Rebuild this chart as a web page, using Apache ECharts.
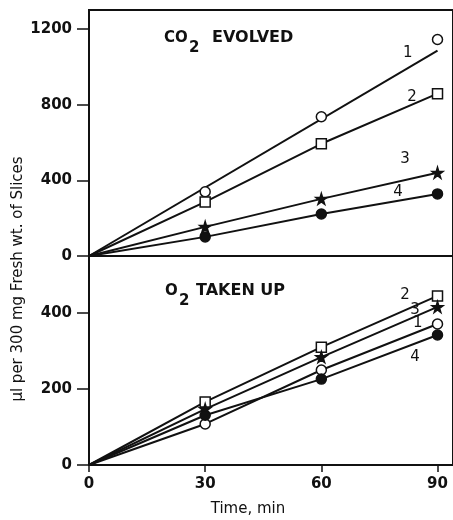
<!DOCTYPE html>
<html>
<head>
<meta charset="utf-8">
<script src="https://cdn.jsdelivr.net/npm/echarts@6/dist/echarts.min.js"></script>
<style>
  html, body { margin: 0; padding: 0; background: #fff; }
  #chart { width: 453px; height: 520px; }
</style>
</head>
<body>
<div id="chart"></div>
<script>
  // sampling times, min
  const times = [0, 30, 60, 90];

  // CO2 evolved (upper panel)
  const co2Curve1 = [0, 339, 736, 1144];
  const co2Fit1Times = [0, 90];
  const co2Fit1 = [0, 1085];
  const co2Curve2 = [0, 286, 593, 858];
  const co2Curve3 = [0, 154, 302, 440];
  const co2Curve4 = [0, 101, 222, 328];

  // O2 taken up (lower panel)
  const o2Curve1 = [0, 108, 250, 371];
  const o2Curve2 = [0, 166, 310, 445];
  const o2Curve3 = [0, 147, 284, 416];
  const o2Curve4 = [0, 131, 226, 342];

  // curve numbers and where they sit
  const curveNames = ['1', '2', '3', '4'];
  const co2LabelX = [82.3, 83.4, 81.6, 79.8];
  const co2LabelY = [1074, 841, 513, 339];
  const o2LabelX = [84.9, 81.6, 84.2, 84.2];
  const o2LabelY = [374, 447, 408, 284];

  const yTicksCo2 = [0, 400, 800, 1200];
  const yTicksO2 = [0, 200, 400];

  const starPath = 'path://M50,0 L61,35 L98,35 L68,57 L79,91 L50,70 L21,91 L32,57 L2,35 L39,35 Z';
  const markers = [
    { symbol: 'circle', size: 10, fill: '#fff' },
    { symbol: 'rect', size: 10, fill: '#fff' },
    { symbol: starPath, size: 11, fill: '#111' },
    { symbol: 'circle', size: 10, fill: '#111' }
  ];

  const font = 'DejaVu Sans';
  const ink = '#111';

  let chart = echarts.init(document.getElementById('chart'));

  function lineSeries(idx, xs, ys) {
    return {
      type: 'line',
      xAxisIndex: idx, yAxisIndex: idx,
      data: xs.map((x, i) => [x, ys[i]]),
      showSymbol: false,
      lineStyle: { color: ink, width: 2 },
      silent: true, z: 2
    };
  }

  function pointSeries(idx, ys, m) {
    return {
      type: 'scatter',
      xAxisIndex: idx, yAxisIndex: idx,
      data: times.slice(1).map((t, i) => [t, ys[i + 1]]),
      symbol: m.symbol,
      symbolSize: m.size,
      itemStyle: { color: m.fill, borderColor: ink, borderWidth: 1.5, opacity: 1 },
      silent: true, z: 3
    };
  }

  function labelSeries(idx, xs, ys) {
    return {
      type: 'scatter',
      xAxisIndex: idx, yAxisIndex: idx,
      data: xs.map((x, i) => ({ value: [x, ys[i]], name: curveNames[i] })),
      symbolSize: 0,
      itemStyle: { opacity: 1 },
      label: {
        show: true, position: 'inside', formatter: '{b}',
        color: ink, fontFamily: font, fontSize: 15
      },
      silent: true, z: 4
    };
  }

  let series = [
    // upper panel: curve 1 is a fitted straight line
    lineSeries(0, co2Fit1Times, co2Fit1),
    lineSeries(0, times, co2Curve2),
    lineSeries(0, times, co2Curve3),
    lineSeries(0, times, co2Curve4),
    pointSeries(0, co2Curve1, markers[0]),
    pointSeries(0, co2Curve2, markers[1]),
    pointSeries(0, co2Curve3, markers[2]),
    pointSeries(0, co2Curve4, markers[3]),
    labelSeries(0, co2LabelX, co2LabelY),
    // lower panel
    lineSeries(1, times, o2Curve1),
    lineSeries(1, times, o2Curve2),
    lineSeries(1, times, o2Curve3),
    lineSeries(1, times, o2Curve4),
    pointSeries(1, o2Curve1, markers[0]),
    pointSeries(1, o2Curve2, markers[1]),
    pointSeries(1, o2Curve3, markers[2]),
    pointSeries(1, o2Curve4, markers[3]),
    labelSeries(1, o2LabelX, o2LabelY)
  ];

  function yAxis(idx, max, interval, ticks) {
    return {
      type: 'value', gridIndex: idx,
      min: 0, max: max, interval: interval,
      splitLine: { show: false },
      axisLine: { show: true, lineStyle: { color: ink, width: 2 } },
      axisTick: { show: true, length: 12, lineStyle: { color: ink, width: 1.5 },
                  customValues: ticks },
      axisLabel: {
        color: ink, fontFamily: font, fontSize: 15, fontWeight: 'bold', margin: 17,
        customValues: ticks,
        formatter: v => String(v)
      }
    };
  }

  function txt(x, y, text, size, weight) {
    return {
      type: 'text', x: x, y: y,
      style: {
        text: text, fill: ink,
        font: (weight || 'bold') + ' ' + size + 'px "DejaVu Sans"',
        verticalAlign: 'middle'
      }
    };
  }

  chart.setOption({
    animation: false,
    backgroundColor: '#fff',
    grid: [
      { left: 89, right: 0, top: 10, height: 246, show: true,
        borderColor: ink, borderWidth: 2, backgroundColor: 'transparent' },
      { left: 89, right: 0, top: 256, height: 209, show: true,
        borderColor: ink, borderWidth: 2, backgroundColor: 'transparent' }
    ],
    xAxis: [
      { type: 'value', gridIndex: 0, min: 0, max: 94, interval: 30, show: false },
      {
        type: 'value', gridIndex: 1, min: 0, max: 94, interval: 30,
        splitLine: { show: false },
        axisLine: { show: true, lineStyle: { color: ink, width: 2 } },
        axisTick: { show: true, length: 7, lineStyle: { color: ink, width: 1.5 },
                    customValues: times },
        axisLabel: { color: ink, fontFamily: font, fontSize: 15, fontWeight: 'bold',
                     margin: 12, customValues: times }
      }
    ],
    yAxis: [
      yAxis(0, 1300, 400, yTicksCo2),
      yAxis(1, 550, 200, yTicksO2)
    ],
    graphic: [
      txt(164, 38, 'CO', 15),
      txt(189, 48, '2', 15),
      txt(212, 38, 'EVOLVED', 16),
      txt(165, 291, 'O', 15),
      txt(179, 301, '2', 15),
      txt(196, 291, 'TAKEN UP', 16),
      {
        type: 'text', x: 18, y: 279, rotation: Math.PI / 2,
        style: {
          text: 'µl per 300 mg Fresh wt. of Slices',
          fill: ink, font: '15px "DejaVu Sans"',
          align: 'center', verticalAlign: 'middle'
        }
      },
      {
        type: 'text', x: 248, y: 509,
        style: {
          text: 'Time, min',
          fill: ink, font: '15px "DejaVu Sans"',
          align: 'center', verticalAlign: 'middle'
        }
      }
    ],
    series: series
  });
</script>
</body>
</html>
